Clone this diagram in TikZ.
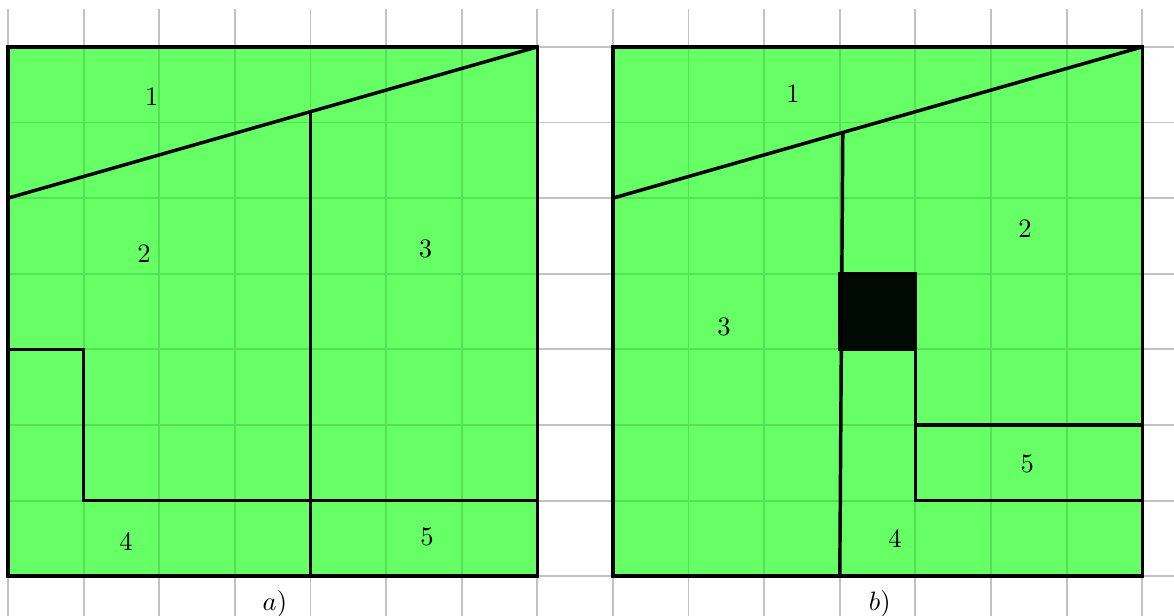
\documentclass[tikz,border=0pt]{standalone}
\usepackage{tikz}
\definecolor{gridgray}{RGB}{194,194,194}
\definecolor{gridgreen}{RGB}{84,226,84}
\definecolor{fieldgreen}{RGB}{102,255,102}
\definecolor{blockblack}{RGB}{0,10,4}

\begin{document}
\begin{tikzpicture}[
	wall/.style={line width=1.3pt,line join=miter},
	paper/.style={gridgray,line width=0.7pt},
	field/.style={gridgreen,line width=0.7pt}]
	\useasboundingbox (-0.106,-0.516) rectangle (15.42,7.62);
	\draw[paper] (0,-0.52) grid (15.42,7.5);
	% the two fields
	\fill[fieldgreen] (0,0) rectangle (7,7);
	\fill[fieldgreen] (8,0) rectangle (15,7);
	\draw[field] (0,0) grid (7,7);
	\draw[field] (8,0) grid (15,7);
	\filldraw[wall,fill=blockblack] (11,3) rectangle (12,4);
	% a)
	\draw[wall] (0,0) rectangle (7,7);
	\draw[wall] (0,5) -- (7,7);
	\draw[wall] (4,6.143) -- (4,0);
	\draw[wall] (0,3) -- (1,3) -- (1,1) -- (7,1);
	\node (a1) at (1.9,6.34) {1};
	\node (a2) at (1.8,4.26) {2};
	\node (a3) at (5.52,4.33) {3};
	\node (a4) at (1.56,0.46) {4};
	\node (a5) at (5.54,0.52) {5};
	\node (capa) at (3.53,-0.36) {$a)$};
	% b)
	\draw[wall] (8,0) rectangle (15,7);
	\draw[wall] (8,5) -- (15,7);
	\draw[wall] (11.04,5.857) -- (11,0);
	\draw[wall] (12,3) -- (12,1) -- (15,1);
	\draw[wall] (12,2) -- (15,2);
	\node (b1) at (10.38,6.38) {1};
	\node (b2) at (13.45,4.6) {2};
	\node (b3) at (9.47,3.29) {3};
	\node (b4) at (11.73,0.5) {4};
	\node (b5) at (13.48,1.49) {5};
	\node (capb) at (11.53,-0.36) {$b)$};
\end{tikzpicture}
\end{document}
